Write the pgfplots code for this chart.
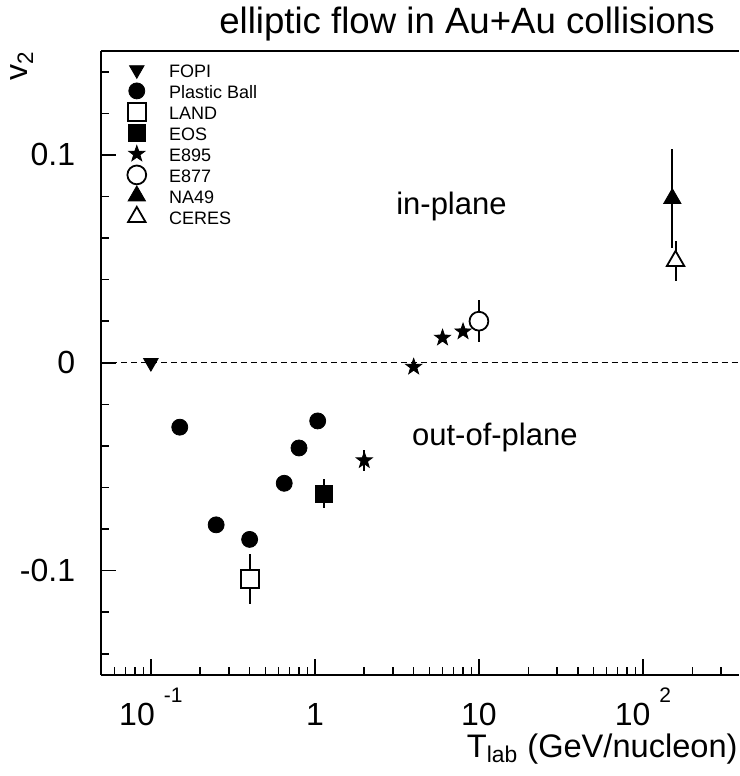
\documentclass[border=0pt]{standalone}
\usepackage{fontspec}
\setmainfont{Liberation Sans}
\usepackage{pgfplots}
\pgfplotsset{compat=1.18}

% filled five-pointed star
\pgfdeclareplotmark{fstar}{%
  \pgfpathmoveto{\pgfpointpolar{90}{\pgfplotmarksize}}%
  \pgfpathlineto{\pgfpointpolar{126}{0.40\pgfplotmarksize}}%
  \pgfpathlineto{\pgfpointpolar{162}{\pgfplotmarksize}}%
  \pgfpathlineto{\pgfpointpolar{198}{0.40\pgfplotmarksize}}%
  \pgfpathlineto{\pgfpointpolar{234}{\pgfplotmarksize}}%
  \pgfpathlineto{\pgfpointpolar{270}{0.40\pgfplotmarksize}}%
  \pgfpathlineto{\pgfpointpolar{306}{\pgfplotmarksize}}%
  \pgfpathlineto{\pgfpointpolar{342}{0.40\pgfplotmarksize}}%
  \pgfpathlineto{\pgfpointpolar{18}{\pgfplotmarksize}}%
  \pgfpathlineto{\pgfpointpolar{54}{0.40\pgfplotmarksize}}%
  \pgfpathclose
  \pgfusepathqfillstroke}

\newcommand{\tenexp}[1]{10\hspace{4.5pt}\raisebox{11.5pt}{\fontsize{10.5}{10.5}\selectfont #1}}

\begin{document}
\begin{tikzpicture}
\begin{axis}[
  scale only axis,
  width=318.75pt, height=311.75pt,
  xmode=log,
  xmin=0.05, xmax=385,
  ymin=-0.15, ymax=0.15,
  clip=false,
  axis y line*=left, axis x line*=bottom,
  axis line style={-, line width=1pt},
  xtick={0.1,1,10,100},
  xticklabels={\tenexp{-1},1,10,\tenexp{2}},
  minor xtick={0.06,0.07,0.08,0.09,0.2,0.3,0.4,0.5,0.6,0.7,0.8,0.9,
               2,3,4,5,6,7,8,9,20,30,40,50,60,70,80,90,200,300},
  ytick={-0.1,0,0.1},
  yticklabels={-0.1,0,0.1},
  minor ytick={-0.14,-0.12,-0.08,-0.06,-0.04,-0.02,0.02,0.04,0.06,0.08,0.12,0.14},
  tick align=inside,
  major tick length=7.5pt, minor tick length=3.8pt,
  every tick/.style={black, line width=0.8pt},
  tick label style={font=\fontsize{16}{16}\selectfont},
  xticklabel style={anchor=base, yshift=-25.25pt},
  yticklabel style={anchor=east, inner sep=0pt, xshift=-13pt},
  legend style={draw=none, fill=none, at={(rel axis cs:0,1)}, anchor=north west,
    xshift=9.25pt, yshift=-6pt, font=\fontsize{9}{9}\selectfont,
    row sep=0pt, column sep=0pt, inner sep=0pt,
    nodes={inner sep=0pt, text height=7pt, text depth=3.5pt}},
  legend image code/.code={%
    \path (0pt,0pt) (24pt,0pt);
    \begin{pgfinterruptboundingbox}
    \draw[#1] plot coordinates {(8pt,0.2em)};
    \end{pgfinterruptboundingbox}},
  legend cell align=left,
  error bars/y dir=both, error bars/y explicit,
  error bars/error mark=none,
  error bars/error bar style={line width=1pt},
]
\addplot[forget plot, dashed, line width=0.5pt, dash pattern=on 3pt off 2pt]
  coordinates {(0.05,0) (385,0)};

% FOPI
\addplot[only marks, mark=triangle*, mark size=4.2pt, mark options={rotate=180, fill=black}]
  coordinates {(0.1,0.0)};
\addlegendentry{FOPI}
% Plastic Ball
\addplot[only marks, mark=*, mark size=4pt, mark options={fill=black}]
  coordinates {(0.15,-0.031) (0.25,-0.078) (0.4,-0.085) (0.65,-0.058) (0.8,-0.041) (1.04,-0.028)};
\addlegendentry{Plastic Ball}
% LAND
\addplot[only marks, mark=square*, mark size=4.5pt, mark options={fill=white, line width=0.9pt}]
  coordinates {(0.4,-0.104) +- (0,0.012)};
\addlegendentry{LAND}
% EOS
\addplot[only marks, mark=square*, mark size=4.2pt, mark options={fill=black}]
  coordinates {(1.13,-0.063) +- (0,0.007)};
\addlegendentry{EOS}
% E895
\addplot[only marks, mark=fstar, mark size=4.2pt, mark options={fill=black}]
  coordinates {(2,-0.047) +- (0,0.005) (4,-0.002) +- (0,0) (6,0.012) +- (0,0) (8,0.015) +- (0,0)};
\addlegendentry{E895}
% E877
\addplot[only marks, mark=*, mark size=4.7pt, mark options={fill=white, line width=0.9pt}]
  coordinates {(10,0.020) +- (0,0.010)};
\addlegendentry{E877}
% NA49
\addplot[only marks, mark=triangle*, mark size=5pt, mark options={fill=black}]
  coordinates {(151,0.079) +- (0,0.024)};
\addlegendentry{NA49}
% CERES
\addplot[only marks, mark=triangle*, mark size=5pt, mark options={fill=white, line width=0.9pt}]
  coordinates {(158,0.049) +- (0,0.0096)};
\addlegendentry{CERES}

\node[font=\fontsize{15.5}{15.5}\selectfont] at (axis cs:6.8,0.075) {in-plane};
\node[font=\fontsize{15.5}{15.5}\selectfont] at (axis cs:12.5,-0.036) {out-of-plane};
\node[anchor=base, font=\fontsize{18.3}{18.3}\selectfont] at ([xshift=182.75pt, yshift=8.5pt]rel axis cs:0,1)
  {elliptic flow in Au+Au collisions};
\node[rotate=90, anchor=base east, inner sep=0pt, font=\fontsize{16}{16}\selectfont]
  at ([xshift=-36.75pt]rel axis cs:0,1) {v\textsubscript{2}};
\node[anchor=base east, inner sep=0pt, font=\fontsize{16.3}{16.3}\selectfont]
  at ([xshift=-0.5pt, yshift=-41.25pt]rel axis cs:1,0) {T\textsubscript{lab} (GeV/nucleon)};
\draw[line width=1pt] (rel axis cs:0,1) -- (rel axis cs:1,1);
\end{axis}
\pgfresetboundingbox
\useasboundingbox (-50.75pt,-50.75pt) rectangle (318.75pt,337.25pt);
\end{tikzpicture}
\end{document}
